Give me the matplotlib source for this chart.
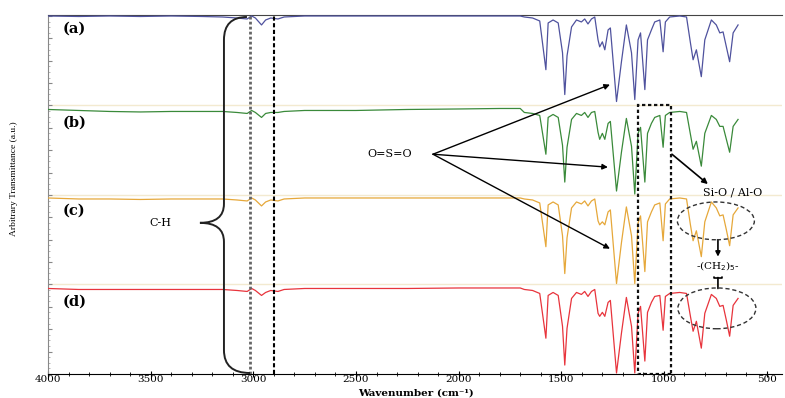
import numpy as np
import matplotlib.pyplot as plt
from matplotlib.path import Path
from matplotlib.patches import PathPatch, Rectangle, Ellipse
from matplotlib.ticker import MultipleLocator

# wavenumber vertices (cm-1) shared by the four traces
wn = [4000, 3850, 3700, 3550, 3400, 3250, 3150, 3080, 3030, 3008,
      2990, 2960, 2940, 2915, 2880, 2850, 2750, 2500, 2250, 2000,
      1800, 1700, 1680, 1640, 1605, 1575, 1564, 1540, 1515, 1494,
      1483, 1472, 1450, 1426, 1402, 1386, 1370, 1353, 1337, 1321,
      1313, 1300, 1288, 1272, 1261, 1231, 1207, 1183, 1158, 1142,
      1126, 1114, 1093, 1080, 1061, 1045, 1020, 1004, 993, 972,
      923, 890, 871, 858, 842, 818, 801, 769, 745, 728,
      712, 696, 680, 663, 639]

# transmittance below each trace's baseline (arbitrary units)
t_a = [0, -0.5, 0, -0.5, 0, -0.5, -1, -2, -3, 0,
       -2, -9, -4, -2, -3, -1, 0, 0, 0, 0,
       0, 0, -1, -2, -5, -54, -7, -4, -7, -37,
       -79, -40, -11, -4, -6, -3, -8, -3, -1, -24,
       -31, -26, -34, -14, -12, -86, -46, -9, -37, -84,
       -24, -17, -74, -24, -14, -6, -4, -36, -6, -1,
       0, -1, -27, -44, -34, -61, -24, -4, -9, -17,
       -16, -31, -46, -17, -9]
t_b = [0, -1, -2, -2.5, -2, -2, -2, -3, -4, -1,
       -3, -8, -4, -3, -3, -2, -1, -1, 0, 0.5,
       1, 1, -3, -4, -6, -45, -8, -5, -8, -36,
       -73, -38, -10, -4, -6, -3, -8, -3, -2, -23,
       -30, -24, -30, -14, -12, -82, -43, -9, -37, -85,
       -24, -18, -73, -24, -14, -8, -6, -38, -6, -3,
       -2, -3, -25, -40, -32, -57, -24, -6, -10, -17,
       -17, -30, -43, -17, -10]
t_c = [0, -1, -1, -1.5, -1, -1, -1, -2, -3, 0,
       -2, -8, -4, -2, -3, -1, 0, 0, 0, 0,
       0, 0, -1, -2, -5, -49, -7, -4, -7, -38,
       -76, -40, -10, -4, -6, -3, -8, -3, -1, -23,
       -27, -24, -27, -14, -12, -86, -45, -9, -38, -86,
       -25, -18, -74, -24, -14, -7, -5, -43, -6, -1,
       0, -1, -27, -43, -33, -59, -24, -4, -10, -18,
       -17, -32, -48, -17, -10]
t_d = [0, -1, -1, -1, -1, -1, -1, -2, -3, 0,
       -2, -7, -4, -2, -3, -1, 0, 0, 0, 0.5,
       0.5, 0.5, -1, -2, -5, -50, -7, -4, -7, -38,
       -77, -40, -10, -4, -6, -3, -8, -3, -1, -25,
       -28, -24, -28, -14, -12, -85, -45, -9, -38, -85,
       -25, -18, -73, -24, -14, -8, -7, -42, -8, -5,
       -4, -5, -28, -43, -33, -60, -25, -6, -10, -18,
       -17, -32, -48, -17, -10]

labels = ['(a)', '(b)', '(c)', '(d)']
offsets = [360, 266, 177, 86]
colors = ['#4f529e', '#3a8a3a', '#e6a83a', '#e8343c']
separators = [270, 180, 90]

fig = plt.figure(figsize=(7.85, 3.98), dpi=100)
ax = fig.add_axes([48 / 785, 24 / 398, 734 / 785, 359 / 398])

for y in separators:
    ax.axhline(y, color='#f3ead0', lw=1, zorder=1)

for t, off, c in zip([t_a, t_b, t_c, t_d], offsets, colors):
    ax.plot(wn, np.array(t) + off, color=c, lw=0.9, zorder=3)

for lab, off in zip(labels, offsets):
    ax.text(3927, off - 13, lab, fontsize=10.5, fontweight='bold',
            family='DejaVu Serif', va='center', ha='left')

# C-H marker lines
ax.axvline(3015, color='#666666', lw=2, ls=(0, (1, 0.8)), zorder=4)
ax.axvline(2900, color='black', lw=1.5, ls=(0, (2, 1.2)), zorder=4)

# curly brace
verts = [(3031, 359), (3143, 359), (3143, 336), (3143, 171),
         (3143, 152), (3260, 152), (3143, 152), (3143, 133),
         (3143, 24), (3143, 1), (3016, 1)]
codes = [Path.MOVETO, Path.CURVE3, Path.CURVE3, Path.LINETO,
         Path.CURVE3, Path.CURVE3, Path.CURVE3, Path.CURVE3,
         Path.LINETO, Path.CURVE3, Path.CURVE3]
ax.add_patch(PathPatch(Path(verts, codes), fc='none', ec='#222222', lw=1.4, zorder=4))
ax.text(3455, 152, 'C-H', fontsize=8, family='DejaVu Serif', ha='center', va='center')

# Si-O / Al-O box
ax.add_patch(Rectangle((966, 0), 160, 271, fill=False, ec='#111111', lw=1.6,
                       ls=(0, (1.5, 1.2)), zorder=4))

# O=S=O arrows
ax.text(2334, 221, 'O=S=O', fontsize=8, family='DejaVu Serif', ha='center', va='center')
for xe, ye in [(1263, 291), (1273, 208), (1263, 126)]:
    ax.annotate('', xy=(xe, ye), xytext=(2125, 221),
                arrowprops=dict(arrowstyle='-|>', color='black', lw=1,
                                mutation_scale=8, shrinkA=0, shrinkB=0))

ax.annotate('', xy=(786, 191), xytext=(961, 221),
            arrowprops=dict(arrowstyle='-|>', color='black', lw=1.2,
                            mutation_scale=8, shrinkA=0, shrinkB=0))
ax.text(664, 183, 'Si-O / Al-O', fontsize=8, family='DejaVu Serif', ha='center', va='center')

# -(CH2)5- circles
ax.add_patch(Ellipse((747, 154), 375, 38, fill=False, ec='#333333', lw=1,
                     ls=(0, (3, 2)), zorder=4))
ax.add_patch(Ellipse((742, 66), 380, 41, fill=False, ec='#333333', lw=1,
                     ls=(0, (3, 2)), zorder=4))
ax.text(737, 108, '-(CH$_2$)$_5$-', fontsize=7.5, family='DejaVu Serif',
        ha='center', va='center')
ax.annotate('', xy=(737, 118), xytext=(737, 135),
            arrowprops=dict(arrowstyle='-|>', color='black', lw=1.2,
                            mutation_scale=7, shrinkA=0, shrinkB=0))
ax.annotate('', xy=(737, 97), xytext=(737, 86),
            arrowprops=dict(arrowstyle='-[', color='black', lw=1.2,
                            mutation_scale=3, shrinkA=0, shrinkB=0))

ax.set_xlim(4000, 425)
ax.set_ylim(0, 361)
ax.spines['right'].set_visible(False)
ax.spines['top'].set_color('#444444')
ax.spines['left'].set_color('#888888')
ax.xaxis.set_major_locator(MultipleLocator(500))
ax.xaxis.set_minor_locator(MultipleLocator(100))
ax.tick_params(axis='x', which='major', direction='inout', length=5, labelsize=7.5, pad=-1.5)
ax.tick_params(axis='x', which='minor', direction='inout', length=3)
ax.yaxis.set_major_locator(MultipleLocator(22.5))
ax.yaxis.set_minor_locator(MultipleLocator(5.625))
ax.tick_params(axis='y', which='major', direction='in', length=3, color='#888888', labelleft=False)
ax.tick_params(axis='y', which='minor', direction='in', length=1.5, color='#aaaaaa')
for lbl in ax.get_xticklabels():
    lbl.set_family('DejaVu Serif')

fig.text(0.018, 0.55, 'Arbitrary Transmittance (a.u.)', rotation=90, fontsize=6.8,
         family='Liberation Serif', ha='center', va='center')
fig.text(0.53, 0.0, 'Wavenumber (cm\u207b\u00b9)', fontsize=7.5, fontweight='bold',
         family='DejaVu Serif', ha='center', va='bottom')

fig.savefig('out.png', dpi=100)
